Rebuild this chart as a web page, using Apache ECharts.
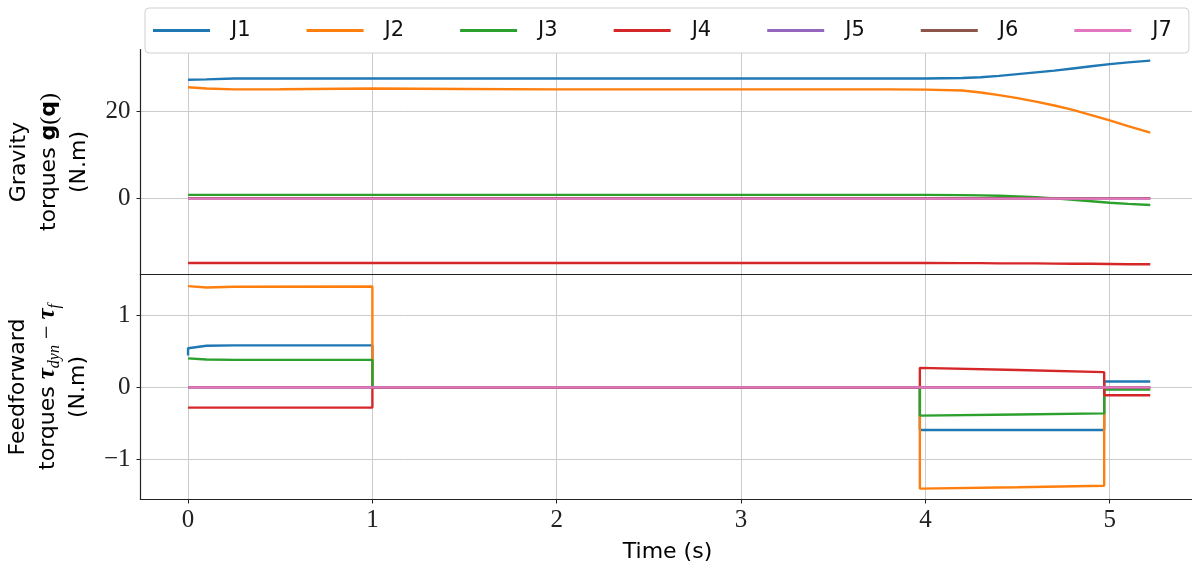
<!DOCTYPE html>
<html>
<head>
<meta charset="utf-8">
<script src="https://cdn.jsdelivr.net/npm/echarts@6/dist/echarts.min.js"></script>
<style>
html, body { margin: 0; padding: 0; background: #fff; }
#chart { width: 1192px; height: 572px; }
</style>
</head>
<body>
<div id="chart"></div>
<script>
const jointNames = ['J1', 'J2', 'J3', 'J4', 'J5', 'J6', 'J7'];
const jointColors = ['#1f77b4', '#ff7f0e', '#2ca02c', '#d62728', '#9467bd', '#8c564b', '#e377c2'];

// gravity torques g(q), N.m
const tGravity = [0, 0.1, 0.25, 0.5, 1, 1.5, 2, 3, 3.8, 4, 4.2, 4.3, 4.4, 4.5, 4.6, 4.7, 4.8, 4.9, 5, 5.1, 5.22];
const gJ1 = [27.2, 27.3, 27.5, 27.5, 27.5, 27.5, 27.5, 27.5, 27.5, 27.5, 27.6, 27.8, 28.1, 28.5, 28.9, 29.3, 29.8, 30.3, 30.8, 31.2, 31.6];
const gJ2 = [25.5, 25.2, 25.0, 25.05, 25.2, 25.1, 25.0, 25.0, 25.0, 24.95, 24.75, 24.3, 23.7, 23.0, 22.2, 21.3, 20.3, 19.1, 17.9, 16.6, 15.1];
const gJ3 = [0.8, 0.8, 0.8, 0.8, 0.8, 0.8, 0.8, 0.8, 0.8, 0.8, 0.75, 0.7, 0.6, 0.45, 0.25, 0.0, -0.3, -0.65, -1.0, -1.25, -1.5];
const gJ4 = [-14.8, -14.8, -14.8, -14.8, -14.8, -14.8, -14.8, -14.8, -14.8, -14.8, -14.85, -14.85, -14.9, -14.9, -14.9, -14.95, -15.0, -15.0, -15.05, -15.1, -15.1];
const gJ5 = [0, 0, 0, 0, 0, 0, 0, 0, 0, 0, 0, 0, 0, 0, 0, 0, 0, 0, 0, 0, 0];
const gJ6 = [0.05, 0.05, 0.05, 0.05, 0.05, 0.05, 0.05, 0.05, 0.05, 0.05, 0.05, 0.05, 0.05, 0.05, 0.05, 0.05, 0.05, 0.05, 0.05, 0.05, 0.05];
const gJ7 = [-0.05, -0.05, -0.05, -0.05, -0.05, -0.05, -0.05, -0.05, -0.05, -0.05, -0.05, -0.05, -0.05, -0.05, -0.05, -0.05, -0.05, -0.05, -0.05, -0.05, -0.05];
const gravity = [gJ1, gJ2, gJ3, gJ4, gJ5, gJ6, gJ7];

// feedforward torques tau_dyn - tau_f, N.m
const tFeed = [0, 0, 0.1, 0.25, 1, 1, 3.97, 3.97, 4.5, 4.97, 4.97, 5.22];
const fJ1 = [0.44, 0.54, 0.575, 0.58, 0.58, 0, 0, -0.59, -0.59, -0.59, 0.08, 0.08];
const fJ2 = [1.40, 1.40, 1.38, 1.39, 1.395, 0, 0, -1.40, -1.38, -1.36, 0, 0];
const fJ3 = [0.40, 0.40, 0.385, 0.38, 0.38, 0, 0, -0.39, -0.375, -0.36, -0.03, -0.03];
const fJ4 = [-0.28, -0.28, -0.28, -0.28, -0.28, 0, 0, 0.27, 0.24, 0.21, -0.11, -0.11];
const fJ5 = [0, 0, 0, 0, 0, 0, 0, 0, 0, 0, 0, 0];
const fJ6 = [0, 0, 0, 0, 0, 0, 0, 0, 0, 0, 0, 0];
const fJ7 = [0, 0, 0, 0, 0, 0, 0, 0, 0, 0, 0, 0];
const feed = [fJ1, fJ2, fJ3, fJ4, fJ5, fJ6, fJ7];

const xTicks = [0, 1, 2, 3, 4, 5];
const yTicksGravity = [0, 20];
const yTicksFeed = [-1, 0, 1];

const serifFont = 'Liberation Serif';
const sansFont = 'DejaVu Sans';
const gridColor = '#cccccc';
const spineColor = '#222';

function makeSeries (t, vals, gridIdx) {
  return vals.map(function (v, j) {
    return {
      name: jointNames[j],
      type: 'line',
      xAxisIndex: gridIdx,
      yAxisIndex: gridIdx,
      showSymbol: false,
      symbol: 'none',
      silent: true,
      color: jointColors[j],
      lineStyle: { width: 2.4, color: jointColors[j] },
      data: t.map(function (x, i) { return [x, v[i]] })
    }
  })
}

function xAxisCfg (gridIdx, showLabels) {
  return {
    type: 'value',
    gridIndex: gridIdx,
    min: -0.258,
    max: 5.46,
    axisLine: { show: true, onZero: false, lineStyle: { color: spineColor, width: 1.2 } },
    axisTick: { show: showLabels, length: 4, customValues: xTicks, lineStyle: { color: spineColor } },
    axisLabel: {
      show: showLabels,
      customValues: xTicks,
      margin: 8,
      fontFamily: serifFont,
      fontSize: 25,
      color: '#222'
    },
    splitLine: { show: true, lineStyle: { color: gridColor, width: 1 } }
  }
}

function yAxisCfg (gridIdx, min, max, ticks, name, rich) {
  return {
    type: 'value',
    gridIndex: gridIdx,
    min: min,
    max: max,
    name: name,
    nameLocation: 'middle',
    nameGap: 43,
    nameRotate: 90,
    nameTextStyle: {
      fontFamily: sansFont,
      fontSize: 22,
      lineHeight: 30,
      color: '#000',
      rich: rich
    },
    axisLine: { show: true, onZero: false, lineStyle: { color: spineColor, width: 1.2 } },
    axisTick: { show: true, length: 4, customValues: ticks, lineStyle: { color: spineColor } },
    axisLabel: {
      customValues: ticks,
      margin: 10,
      fontFamily: serifFont,
      fontSize: 25,
      color: '#222',
      formatter: function (v) { return v < 0 ? '\u2212' + Math.abs(v) : String(v) }
    },
    splitLine: { show: true, lineStyle: { color: gridColor, width: 1 } }
  }
}

const nameRich = {
  b: { fontFamily: sansFont, fontWeight: 'bold', fontSize: 22, lineHeight: 30 },
  m: { fontFamily: serifFont, fontSize: 24, lineHeight: 30 },
  bi: { fontFamily: serifFont, fontWeight: 'bold', fontStyle: 'italic', fontSize: 25, lineHeight: 30 },
  sub: { fontFamily: serifFont, fontStyle: 'italic', fontSize: 16, lineHeight: 20, verticalAlign: 'bottom' }
}

let chart = echarts.init(document.getElementById('chart'))
chart.setOption({
  animation: false,
  backgroundColor: '#fff',
  legend: {
    data: jointNames,
    left: 145,
    top: 8,
    orient: 'horizontal',
    padding: [12, 17, 12, 8],
    icon: 'rect',
    itemWidth: 57,
    itemHeight: 3,
    itemGap: 56,
    backgroundColor: '#fff',
    borderColor: '#d0d0d0',
    borderWidth: 1,
    borderRadius: 4,
    textStyle: {
      fontFamily: sansFont,
      fontSize: 21,
      lineHeight: 20,
      color: '#111',
      padding: [0, 0, 0, 16]
    }
  },
  grid: [
    { left: 140.5, top: 49.5, width: 1054, height: 225, outerBoundsMode: 'none' },
    { left: 140.5, top: 274.5, width: 1054, height: 225, outerBoundsMode: 'none' }
  ],
  xAxis: [
    xAxisCfg(0, false),
    Object.assign(xAxisCfg(1, true), {
      name: 'Time (s)',
      nameLocation: 'middle',
      nameGap: 42,
      nameTextStyle: { fontFamily: sansFont, fontSize: 22, color: '#000' }
    })
  ],
  yAxis: [
    yAxisCfg(0, -17.45, 34.15, yTicksGravity,
      'Gravity\ntorques {b|g}{m|(}{b|q}{m|)}\n(N.m)', nameRich),
    yAxisCfg(1, -1.55, 1.56, yTicksFeed,
      'Feedforward\ntorques {bi|\u03c4}{sub|dyn}{m| \u2212 }{bi|\u03c4}{sub|f}\n(N.m)', nameRich)
  ],
  series: makeSeries(tGravity, gravity, 0).concat(makeSeries(tFeed, feed, 1))
})
</script>
</body>
</html>
